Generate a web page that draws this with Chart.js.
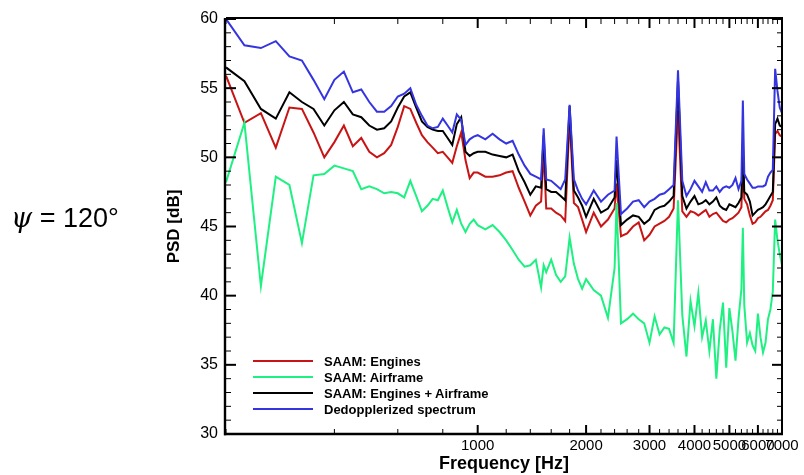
<!DOCTYPE html>
<html>
<head>
<meta charset="utf-8">
<script src="https://cdn.jsdelivr.net/npm/chart.js@4.4.0/dist/chart.umd.min.js"></script>
<style>
  body { margin: 0; background: #fff; font-family: "Liberation Sans", Arial, sans-serif; }
  #wrap { position: relative; width: 804px; height: 475px; }
  #psi { position: absolute; left: 11px; top: 202px; font-size: 27px; color: #000; white-space: nowrap; }
  #psi i { font-family: "DejaVu Serif", serif; }
  #legend { position: absolute; left: 253px; top: 353px; font-weight: bold; font-size: 13px; color: #000; }
  #legend div { height: 16px; display: flex; align-items: center; white-space: nowrap; }
  #legend .sw { display: inline-block; width: 60px; height: 2px; margin-right: 11px; }
</style>
</head>
<body>
<div id="wrap">
  <canvas id="chart" width="804" height="475"></canvas>
  <div id="psi"><i>&psi;</i> = 120&deg;</div>
  <div id="legend"></div>
</div>
<script>
// Frequencies [Hz] shared by all spectra
const freqs = [
  200, 225, 250, 275, 300, 325, 350, 375, 400, 425, 450, 475, 500, 525, 550, 575, 600, 625, 650, 675,
  700, 725, 750, 775, 800, 825, 850, 875, 900, 925, 950, 975, 1000,
  1050, 1100, 1150, 1200, 1250, 1300, 1350, 1400, 1450, 1500, 1525, 1550, 1600, 1650, 1700, 1750, 1800,
  1850, 1900, 1950, 2000,
  2100, 2200, 2300, 2400, 2430, 2500, 2600, 2700, 2800, 2900, 3000, 3100, 3200, 3300, 3400, 3500, 3600,
  3700, 3800, 3900, 4000,
  4100, 4200, 4300, 4400, 4500, 4600, 4700, 4800, 4900, 5000, 5100, 5200, 5300, 5400, 5450, 5500, 5600,
  5700, 5800, 5900, 6000,
  6100, 6200, 6300, 6400, 6500, 6600, 6700, 6800, 6900, 7000
];

// PSD [dB]
const engines = [
  55.9, 52.5, 53.2, 50.7, 53.6, 53.5, 51.8, 50.0, 51.1, 52.3, 50.8, 51.4, 50.4, 50.0, 50.3, 50.9, 52.2, 53.7, 53.5, 52.5,
  51.6, 51.1, 50.7, 50.3, 50.4, 50.0, 49.6, 50.8, 51.8, 49.8, 48.5, 48.9, 48.9,
  48.6, 48.6, 48.7, 48.9, 49.0, 47.8, 46.8, 45.8, 46.5, 46.8, 50.5, 46.3, 46.3, 46.0, 45.8, 45.4, 52.9,
  46.7, 46.4, 45.5, 44.6,
  46.0, 45.0, 45.5, 46.3, 48.1, 44.3, 44.5, 45.0, 45.3, 44.0, 44.4, 45.0, 45.2, 45.4, 45.7, 46.3, 53.4,
  46.1, 45.7, 46.1, 46.0,
  45.8, 46.0, 46.2, 45.7, 45.9, 46.0, 45.7, 45.4, 45.3, 45.5, 45.6, 45.8, 46.0, 46.4, 50.0, 47.0, 46.6,
  45.8, 45.2, 45.3, 45.6,
  45.7, 45.9, 46.1, 46.2, 46.5, 46.9, 51.7, 51.9, 51.6, 51.5
];
const airframe = [
  48.2, 52.5, 40.7, 48.6, 48.0, 43.8, 48.7, 48.8, 49.4, 49.2, 49.0, 47.7, 47.9, 47.7, 47.4, 47.5, 47.4, 47.1, 48.3, 47.2,
  46.1, 46.5, 47.0, 46.9, 47.6, 46.4, 45.3, 46.2, 45.2, 44.6, 45.2, 45.5, 45.1,
  44.8, 45.1, 44.6, 44.0, 43.3, 42.6, 42.1, 42.2, 42.6, 40.6, 42.2, 41.7, 42.6, 41.5, 41.0, 41.4, 44.2,
  42.3, 41.2, 40.5, 41.2,
  40.4, 40.0, 38.4, 42.0, 46.7, 38.0, 38.3, 38.7, 38.3, 38.0, 36.6, 38.5, 37.2, 37.7, 37.6, 36.6, 46.9,
  38.6, 35.6, 39.6, 37.8,
  40.2, 37.0, 38.2, 36.0, 38.3, 34.0, 37.5, 39.5, 34.8, 39.1, 37.4, 35.3, 38.3, 40.5, 44.9, 39.3, 36.6,
  37.3, 36.4, 36.0, 38.7,
  37.0, 35.9, 36.6, 38.3, 39.0, 40.3, 45.5, 44.0, 43.0, 42.2
];
const enginesAirframe = [
  56.5, 55.5, 53.5, 52.8, 54.7, 54.0, 53.5, 52.3, 53.4, 54.0, 53.1, 52.9, 52.3, 52.0, 52.1, 52.6, 53.6, 54.4, 54.7, 53.6,
  52.6, 52.2, 52.0, 51.9, 51.9, 51.4, 50.9, 52.4, 52.9, 50.4, 50.1, 50.3, 50.4,
  50.4, 50.2, 50.1, 50.0, 50.2, 49.0, 48.2, 47.3, 47.9, 47.8, 51.6, 47.7, 47.5, 47.5, 47.2, 46.9, 53.7,
  47.6, 47.1, 46.5, 45.7,
  47.0, 46.0, 46.3, 47.1, 49.8, 45.1, 45.5, 45.8, 45.7, 45.2, 45.5, 46.2, 46.4, 46.5, 46.8, 47.2, 55.6,
  47.2, 46.3, 46.8, 47.2,
  46.6, 46.7, 46.9, 46.6, 46.8, 47.1, 46.5, 46.3, 46.2, 46.6, 46.5, 46.4, 46.7, 47.1, 51.0, 47.5, 47.3,
  46.8, 45.8, 46.0, 46.2,
  46.3, 46.4, 46.6, 46.9, 47.2, 47.5, 52.4, 52.8, 52.3, 52.2
];
const dedopplerized = [
  60.0, 58.1, 57.9, 58.4, 57.3, 57.0, 55.6, 54.2, 55.6, 56.2, 54.7, 54.9, 54.0, 53.3, 53.3, 53.7, 54.4, 54.6, 55.0, 53.8,
  53.0, 52.3, 52.1, 52.2, 52.8, 52.3, 51.8, 53.1, 52.7, 50.9, 51.3, 51.5, 51.6,
  51.3, 51.7, 51.3, 51.0, 51.2, 50.2, 49.4, 48.8, 48.6, 48.4, 52.1, 48.4, 48.3, 48.0, 47.7, 48.4, 53.8,
  48.4, 47.6, 47.0, 46.6,
  47.6, 46.8, 47.3, 47.6, 51.5, 45.9, 46.3, 46.8, 46.9, 46.4, 46.8, 47.0, 47.3, 47.4, 47.7, 48.0, 56.3,
  48.3, 47.2, 47.7, 48.3,
  47.9, 47.5, 48.2, 47.6, 47.6, 47.9, 47.5, 47.8, 47.9, 47.8, 48.0, 48.5, 47.7, 48.3, 54.1, 48.8, 48.4,
  48.1, 47.8, 47.8, 47.9,
  47.9, 47.9, 48.0, 48.6, 48.9, 49.1, 56.4, 54.8, 53.6, 53.2
];

const seriesNames = ['SAAM: Engines', 'SAAM: Airframe', 'SAAM: Engines + Airframe', 'Dedopplerized spectrum'];
const seriesColors = ['#c81414', '#1ef082', '#000000', '#3434e0'];
const xTickLabels = [1000, 2000, 3000, 4000, 5000, 6000, 7000];
const yTickLabels = [30, 35, 40, 45, 50, 55, 60];

function toPoints(vals) {
  return freqs.map((f, i) => ({ x: f, y: vals[i] }));
}

// Tecplot-like frame with inward ticks on all four sides
const frameTicks = {
  id: 'frameTicks',
  afterDraw(chart) {
    const { ctx, chartArea: a, scales: { x, y } } = chart;
    ctx.save();
    ctx.strokeStyle = '#000';
    function seg(x1, y1, x2, y2, w) {
      ctx.lineWidth = w;
      ctx.beginPath();
      ctx.moveTo(x1, y1);
      ctx.lineTo(x2, y2);
      ctx.stroke();
    }
    for (let f = 200; f <= 7000; f += 200) {
      const major = xTickLabels.includes(f);
      const px = x.getPixelForValue(f);
      const len = major ? 9 : 5;
      const w = major ? 2 : 1;
      seg(px, a.bottom, px, a.bottom - len, w);
      seg(px, a.top, px, a.top + len, w);
    }
    for (let v = 30; v <= 60; v++) {
      const major = v % 5 === 0;
      const py = y.getPixelForValue(v);
      const len = major ? 10 : 5;
      const w = major ? 2 : 1;
      seg(a.left, py, a.left + len, py, w);
      seg(a.right, py, a.right - len, py, w);
    }
    seg(a.left, a.top - 1, a.right + 1, a.top - 1, 2);
    seg(a.right, a.top - 1, a.right, a.bottom, 2);
    seg(a.left - 1, a.top - 1, a.left - 1, a.bottom + 1.2, 2.4);
    seg(a.left - 2, a.bottom, a.right + 1, a.bottom, 2.4);
    ctx.restore();
  }
};

const datasets = [engines, airframe, enginesAirframe, dedopplerized].map((vals, i) => ({
  label: seriesNames[i],
  data: toPoints(vals),
  borderColor: seriesColors[i],
  borderWidth: 2,
  pointRadius: 0,
  tension: 0,
  fill: false,
  order: [3, 2, 1, 0][i]
}));

new Chart(document.getElementById('chart'), {
  type: 'line',
  data: { datasets: datasets },
  options: {
    responsive: false,
    animation: false,
    devicePixelRatio: 1,
    layout: { padding: { left: 0, right: 22, top: 19, bottom: 0 } },
    plugins: { legend: { display: false }, tooltip: { enabled: false } },
    scales: {
      x: {
        type: 'logarithmic',
        min: 200,
        max: 7000,
        grid: { display: false, drawTicks: false },
        border: { display: false },
        afterBuildTicks: s => { s.ticks = xTickLabels.map(v => ({ value: v })); },
        afterFit: s => { s.height = 41; },
        ticks: {
          autoSkip: false,
          maxRotation: 0,
          padding: 3,
          color: '#000',
          font: { family: '"Liberation Sans", Arial, sans-serif', size: 15 },
          callback: v => String(v)
        },
        title: {
          display: true,
          text: 'Frequency [Hz]',
          color: '#000',
          font: { family: '"Liberation Sans", Arial, sans-serif', size: 18, weight: 'bold' },
          padding: { top: 0, bottom: 0 }
        }
      },
      y: {
        min: 30,
        max: 60,
        grid: { display: false, drawTicks: false },
        border: { display: false },
        afterBuildTicks: s => { s.ticks = yTickLabels.map(v => ({ value: v })); },
        afterFit: s => { s.width = 226; },
        ticks: {
          padding: 8,
          color: '#000',
          font: { family: '"Liberation Sans", Arial, sans-serif', size: 16 }
        },
        title: {
          display: true,
          text: 'PSD [dB]',
          color: '#000',
          font: { family: '"Liberation Sans", Arial, sans-serif', size: 17, weight: 'bold' },
          padding: { top: 164, bottom: 0 }
        }
      }
    }
  },
  plugins: [frameTicks]
});

// Legend inside the plot, lower left
const legend = document.getElementById('legend');
seriesNames.forEach((name, i) => {
  const row = document.createElement('div');
  const sw = document.createElement('span');
  sw.className = 'sw';
  sw.style.background = seriesColors[i];
  row.appendChild(sw);
  row.appendChild(document.createTextNode(name));
  legend.appendChild(row);
});
</script>
</body>
</html>
